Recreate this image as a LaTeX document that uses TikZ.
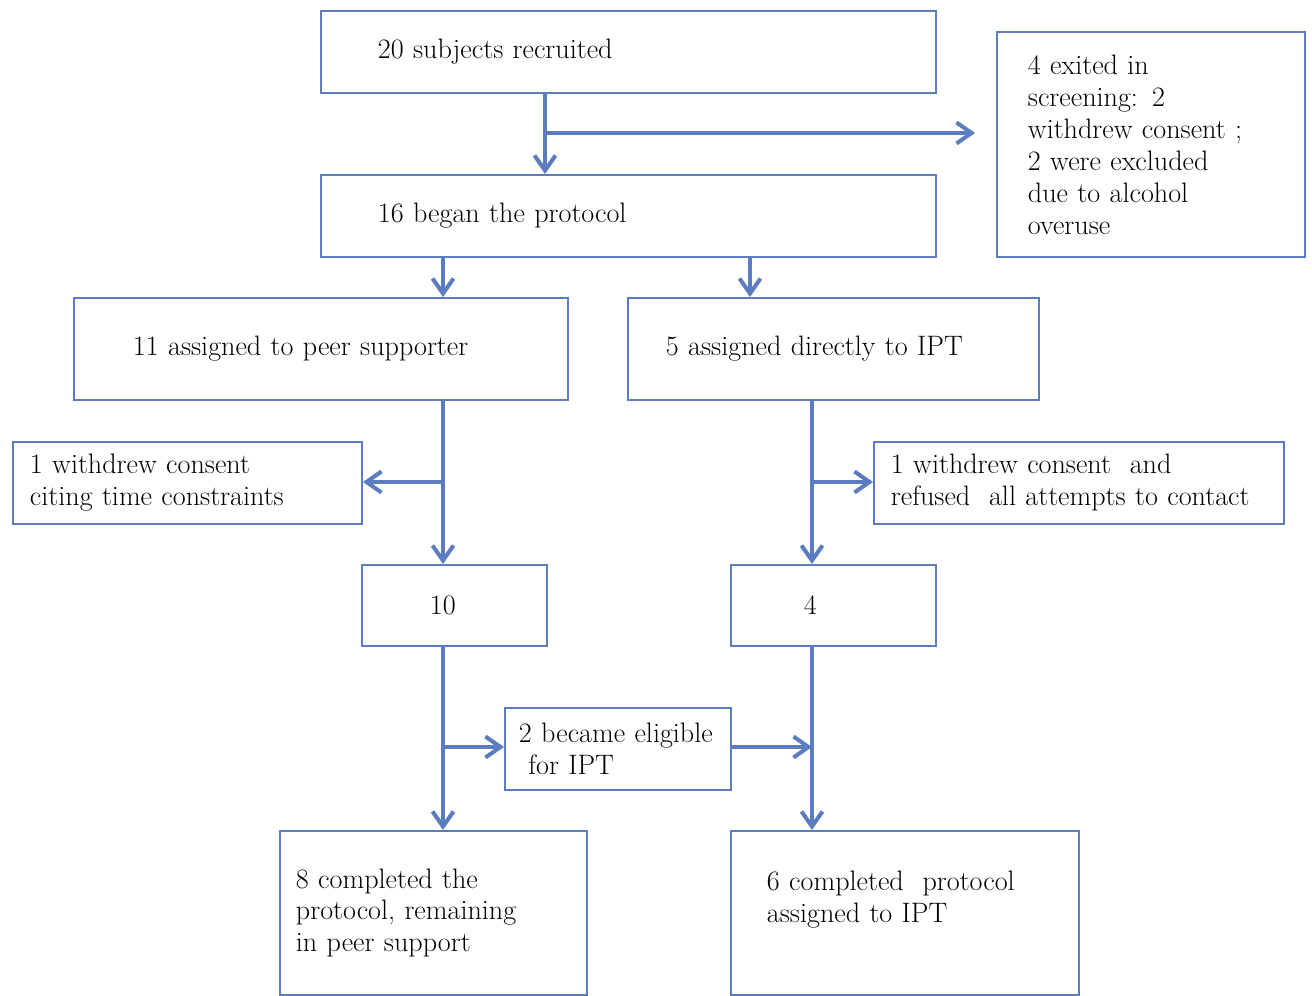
\documentclass[tikz,border=0pt]{standalone}
\usepackage{xcolor}
\usepackage{tikz}
\usetikzlibrary{arrows.meta}
\definecolor{flowblue}{HTML}{5B7CBF}

\begin{document}
\begin{tikzpicture}
      [box/.style={draw=flowblue, line width=1.1pt, rectangle, anchor=north west, align=left, inner sep=0pt, font=\fontsize{16}{18.2}\selectfont},
       flow/.style={draw=flowblue, line width=2.3pt, -{Straight Barb[length=0.3cm, width=0.42cm]}}]

      \useasboundingbox (0,0) rectangle (26.24,-19.92);

      %nodes
      \node[box, minimum width=12.30cm, minimum height=1.64cm, text width=10.02cm] (recruited) at (6.40,-0.20) {20 subjects recruited};
      \node[box, minimum width=6.16cm, minimum height=4.50cm, text width=4.92cm] (exited) at (19.92,-0.62) {4 exited in\\screening: 2\\withdrew consent ;\\2 were excluded\\due to alcohol\\overuse};
      \node[box, minimum width=12.30cm, minimum height=1.64cm, text width=10.02cm] (began) at (6.40,-3.48) {16 began the protocol};
      \node[box, minimum width=9.88cm, minimum height=2.04cm, text width=7.52cm] (peer) at (1.46,-5.94) {11 assigned to peer supporter};
      \node[box, minimum width=8.22cm, minimum height=2.04cm, text width=6.70cm] (direct) at (12.54,-5.94) {5 assigned directly to IPT};
      \node[box, minimum width=6.98cm, minimum height=1.64cm, text width=6.30cm] (timeout) at (0.24,-8.82) {1 withdrew consent\\citing time constraints};
      \node[box, minimum width=8.20cm, minimum height=1.64cm, text width=7.52cm] (refused) at (17.46,-8.82) {1 withdrew consent~ and\\refused~ all attempts to contact};
      \node[box, minimum width=3.70cm, minimum height=1.62cm, text width=0.98cm] (ten) at (7.22,-11.28) {10};
      \node[box, minimum width=4.10cm, minimum height=1.62cm, text width=1.18cm] (four) at (14.60,-11.28) {4};
      \node[box, minimum width=4.52cm, minimum height=1.64cm, text width=3.96cm] (eligible) at (10.08,-14.14) {2 became eligible\\~for IPT};
      \node[box, minimum width=6.14cm, minimum height=3.28cm, text width=5.50cm] (peerdone) at (5.58,-16.60) {8 completed the\\protocol, remaining\\in peer support};
      \node[box, minimum width=6.96cm, minimum height=3.28cm, text width=5.52cm] (iptdone) at (14.60,-16.60) {6 completed~ protocol\\assigned to IPT\\~};

      % lanes %
      \coordinate (split1) at (10.90,-2.66);
      \coordinate (exit1) at (19.50,-2.66);
      \coordinate (split2) at (15.00,-5.00);
      \coordinate (leftlane) at (8.86,-9.64);
      \coordinate (rightlane) at (16.24,-9.64);
      \coordinate (leftlow) at (8.86,-14.94);
      \coordinate (rightlow) at (16.24,-14.94);

      % edges %
      \draw[flow] (split1 |- recruited.south) -- (split1 |- began.north);
      \draw[flow] (split1) -- (exit1);
      \draw[flow] (leftlane |- began.south) -- (leftlane |- peer.north);
      \draw[flow] (split2 |- began.south) -- (split2 |- direct.north);
      \draw[flow] (leftlane |- peer.south) -- (leftlane |- ten.north);
      \draw[flow] (leftlane) -- (leftlane -| timeout.east);
      \draw[flow] (rightlane |- direct.south) -- (rightlane |- four.north);
      \draw[flow] (rightlane) -- (rightlane -| refused.west);
      \draw[flow] (leftlow |- ten.south) -- (leftlow |- peerdone.north);
      \draw[flow] (leftlow) -- (eligible.west |- leftlow);
      \draw[flow] (rightlow |- four.south) -- (rightlow |- iptdone.north);
      \draw[flow] (eligible.east |- rightlow) -- (rightlow);
    \end{tikzpicture}
\end{document}
